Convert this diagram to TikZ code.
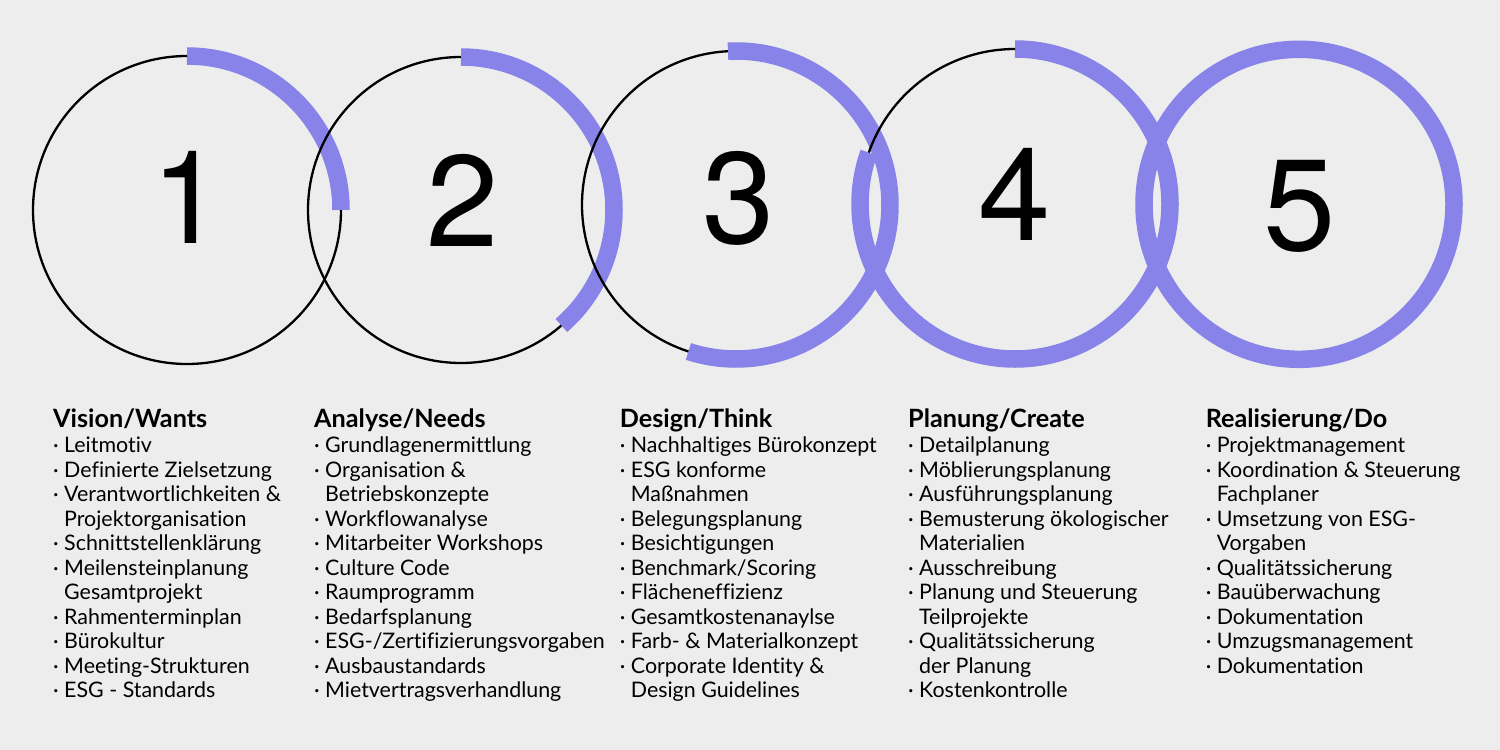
\documentclass[tikz,border=0pt]{standalone}
\usepackage{fontspec}
\setmainfont{Lato}[Ligatures={NoCommon}]
\newfontfamily\digitfont{TeX Gyre Heros}
\definecolor{bgc}{RGB}{237,237,237}
\definecolor{ringpurple}{RGB}{136,131,232}
\newcommand\itb{\makebox[11pt][l]{·}}
\newcommand\itc{\hspace*{11pt}}
\tikzset{
  ring/.style={draw=ringpurple, line width=17.5pt},
  thin ring/.style={draw=black, line width=2.3pt},
  digit/.style={anchor=base, inner sep=0pt, font=\digitfont\fontsize{130}{130}\selectfont},
  head/.style={anchor=base west, inner sep=0pt, font=\bfseries\fontsize{25.2}{28}\selectfont},
  item/.style={anchor=base west, inner sep=0pt, font=\fontsize{21.4}{24}\selectfont},
}
\newcommand\mkcol[4]{%
  \node[head] (#4-h) at (#1,-427.5) {#2};
  \foreach \t [count=\i] in {#3} {
    \node[item] (#4-\i) at (#1,{-452.5-(\i-1)*24.5}) {\t};
  }
}
\begin{document}
\begin{tikzpicture}[x=1pt,y=1pt]
\fill[bgc] (0,0) rectangle (1500,-750);
\coordinate (c1) at (187,-210);
\coordinate (c2) at (461,-210);
\coordinate (c3) at (736,-205);
\coordinate (c4) at (1015,-204);
\coordinate (c5) at (1299,-204.3);
% purple arcs
\draw[ring] (c1) ++(90:154) arc[start angle=90, end angle=0, radius=154];
\draw[ring] (c2) ++(90:153) arc[start angle=90, end angle=-49, radius=153];
\draw[ring] (c3) ++(93:154) arc[start angle=93, end angle=-108, radius=154];
\draw[ring] (c4) ++(90:155) arc[start angle=90, end angle=-199.4, radius=155];
\draw[ring] (c5) circle[radius=155];
% black arcs
\draw[thin ring] (c1) ++(90:154) arc[start angle=90, end angle=360, radius=154];
\draw[thin ring] (c2) ++(90:153) arc[start angle=90, end angle=311, radius=153];
\draw[thin ring] (c3) ++(93:154) arc[start angle=93, end angle=252, radius=154];
\draw[thin ring] (c4) ++(90:155) arc[start angle=90, end angle=160.6, radius=155];
% digits
\node[digit] (n1) at (188,-243.3) {1};
\node[digit] (n2) at (463,-246.5) {2};
\node[digit] (n3) at (739,-243.5) {3};
\node[digit] (n4) at (1015,-240.7) {4};
\node[digit] (n5) at (1300,-250.3) {5};
% columns
\mkcol{53}{Vision/Wants}{{\itb Leitmotiv},{\itb Definierte Zielsetzung},{\itb Verantwortlichkeiten \&},{\itc Projektorganisation},{\itb Schnittstellenklärung},{\itb Meilensteinplanung},{\itc Gesamtprojekt},{\itb Rahmenterminplan},{\itb Bürokultur},{\itb Meeting-Strukturen},{\itb ESG - Standards}}{a}
\mkcol{314}{Analyse/Needs}{{\itb Grundlagenermittlung},{\itb Organisation \&},{\itc Betriebskonzepte},{\itb Workflowanalyse},{\itb Mitarbeiter Workshops},{\itb Culture Code},{\itb Raumprogramm},{\itb Bedarfsplanung},{\itb ESG-/Zertifizierungsvorgaben},{\itb Ausbaustandards},{\itb Mietvertragsverhandlung}}{b}
\mkcol{619.7}{Design/Think}{{\itb Nachhaltiges Bürokonzept},{\itb ESG konforme},{\itc Maßnahmen},{\itb Belegungsplanung},{\itb Besichtigungen},{\itb Benchmark/Scoring},{\itb Flächeneffizienz},{\itb Gesamtkostenanaylse},{\itb Farb- \& Materialkonzept},{\itb Corporate Identity \&},{\itc Design Guidelines}}{c}
\mkcol{908}{Planung/Create}{{\itb Detailplanung},{\itb Möblierungsplanung},{\itb Ausführungsplanung},{\itb Bemusterung ökologischer},{\itc Materialien},{\itb Ausschreibung},{\itb Planung und Steuerung},{\itc Teilprojekte},{\itb Qualitätssicherung},{\itc der Planung},{\itb Kostenkontrolle}}{d}
\mkcol{1205.6}{Realisierung/Do}{{\itb Projektmanagement},{\itb Koordination \& Steuerung},{\itc Fachplaner},{\itb Umsetzung von ESG-},{\itc Vorgaben},{\itb Qualitätssicherung},{\itb Bauüberwachung},{\itb Dokumentation},{\itb Umzugsmanagement},{\itb Dokumentation}}{e}
\end{tikzpicture}
\end{document}
